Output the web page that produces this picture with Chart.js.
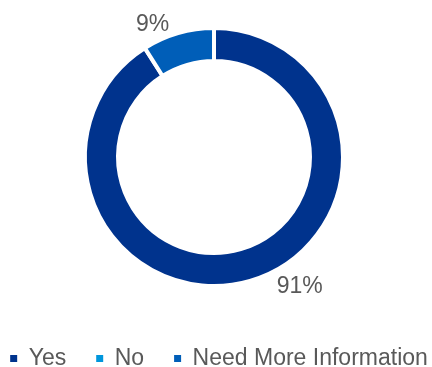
<!DOCTYPE html>
<html>
<head>
<meta charset="utf-8">
<script src="https://cdn.jsdelivr.net/npm/chart.js@4/dist/chart.umd.min.js"></script>
<style>
  html, body { margin: 0; padding: 0; background: #ffffff; overflow: hidden; }
  #wrap { width: 432px; height: 367px; overflow: hidden; position: relative; }
  #chart { position: absolute; left: -2px; top: -3px; }
</style>
</head>
<body>
<div id="wrap"><canvas id="chart" width="432" height="370"></canvas></div>
<script>
// Survey answers (percent of respondents)
const categories = ['Yes', 'No', 'Need More Information'];
const shares = [91, 0, 9];
const sliceColors = ['#00338D', '#0096DC', '#005EB8'];

const textColor = '#595959';
const fontFamily = '"Liberation Sans", Arial, Helvetica, sans-serif';

// Writes each slice's percentage just outside the ring
const sliceLabels = {
  id: 'sliceLabels',
  afterDatasetsDraw(chart, args, opts) {
    const meta = chart.getDatasetMeta(0);
    const ctx = chart.ctx;
    const values = chart.data.datasets[0].data;
    ctx.save();
    ctx.font = opts.size + 'px ' + fontFamily;
    ctx.fillStyle = textColor;
    ctx.textAlign = 'center';
    ctx.textBaseline = 'middle';
    meta.data.forEach((arc, i) => {
      const v = values[i];
      if (!v) return;
      const p = arc.getProps(['x', 'y', 'startAngle', 'endAngle', 'outerRadius'], true);
      const a = p.startAngle + (p.endAngle - p.startAngle) * opts.along[i];
      const r = p.outerRadius + opts.gap[i];
      ctx.fillText(v + '%', p.x + Math.cos(a) * r, p.y + Math.sin(a) * r);
    });
    ctx.restore();
  }
};

new Chart(document.getElementById('chart'), {
  type: 'doughnut',
  data: {
    labels: categories,
    datasets: [{
      data: shares,
      backgroundColor: sliceColors,
      borderColor: '#ffffff',
      borderWidth: 4,
      hoverOffset: 0,
      radius: 129,
      cutout: '74.4%'
    }]
  },
  options: {
    responsive: false,
    animation: false,
    // the legend row is wider than the canvas, so let it run past the edges
    layout: { padding: { top: 0, bottom: -13, left: -22, right: -32 } },
    plugins: {
      tooltip: { enabled: false },
      legend: {
        position: 'bottom',
        labels: {
          boxWidth: 7,
          boxHeight: 7,
          padding: 30,
          color: textColor,
          font: { family: fontFamily, size: 23 },
          generateLabels(chart) {
            const base = Chart.overrides.doughnut.plugins.legend.labels.generateLabels(chart);
            return base.map(item => Object.assign(item, { lineWidth: 0, strokeStyle: item.fillStyle }));
          }
        }
      },
      sliceLabels: { size: 23, along: [0.447, 0, 0.23], gap: [26, 0, 16.6] }
    }
  },
  plugins: [sliceLabels]
});
</script>
</body>
</html>
